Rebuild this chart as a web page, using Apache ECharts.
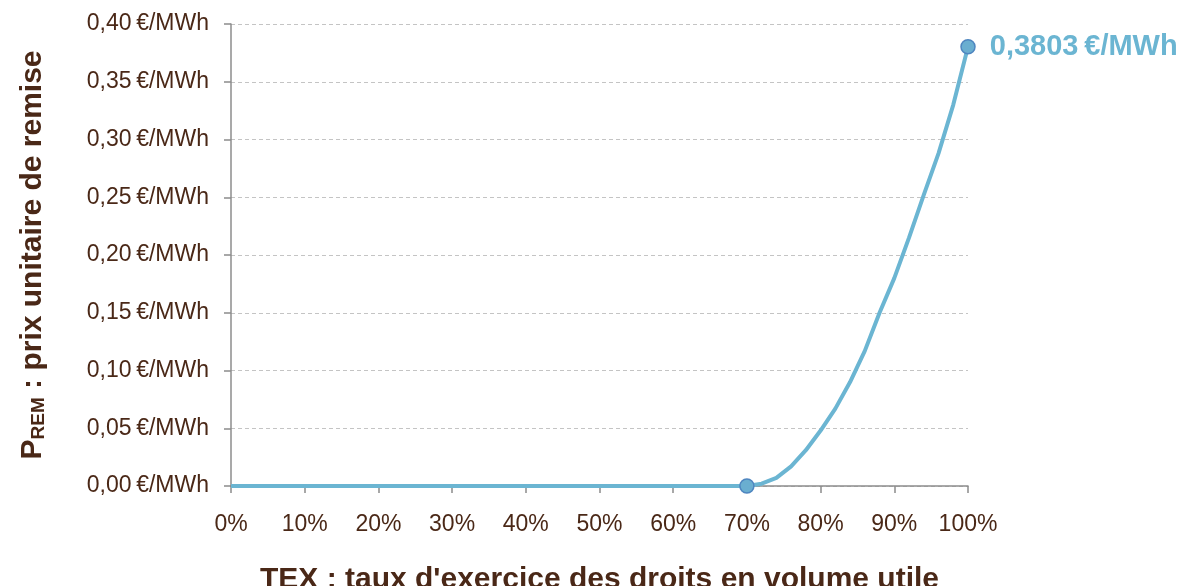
<!DOCTYPE html>
<html>
<head>
<meta charset="utf-8">
<script src="https://cdn.jsdelivr.net/npm/echarts@6/dist/echarts.min.js"></script>
<style>
  html, body { margin: 0; padding: 0; background: #fff; }
  #chart { width: 1179px; height: 586px; }
</style>
</head>
<body>
<div id="chart"></div>
<script>
  // taux d'exercice (%) et prix unitaire de remise (€/MWh)
  var tex = [0, 70, 72, 74, 76, 78, 80, 82, 84, 86, 88, 90, 92, 94, 96, 98, 100]
  var prix = [0, 0, 0.002, 0.007, 0.017, 0.031, 0.048, 0.067, 0.090, 0.117, 0.150, 0.180, 0.215, 0.252, 0.288, 0.330, 0.3803]
  var markedTex = [70, 100]

  var brown = '#4a2817'
  var blue = '#6bb5d2'
  var font = 'Liberation Sans'

  var data = tex.map(function (t, i) { return [t, prix[i]] })

  var chart = echarts.init(document.getElementById('chart'))

  var option = {
    animation: false,
    grid: { left: 231, right: 211, top: 24, bottom: 100, outerBoundsMode: 'none' },
    xAxis: {
      type: 'value',
      min: 0,
      max: 100,
      interval: 10,
      name: "TEX : taux d'exercice des droits en volume utile",
      nameLocation: 'middle',
      nameGap: 79,
      nameTextStyle: { color: brown, fontFamily: font, fontSize: 30, fontWeight: 'bold' },
      axisLine: { show: true, lineStyle: { color: '#8c8c8c', width: 1.5 } },
      axisTick: { show: true, length: 7, lineStyle: { color: '#8c8c8c', width: 1.5 } },
      axisLabel: {
        color: brown, fontFamily: font, fontSize: 23, margin: 27,
        formatter: function (v) { return v + '%' }
      },
      splitLine: { show: false }
    },
    yAxis: {
      type: 'value',
      min: 0,
      max: 0.4,
      interval: 0.05,
      name: '{p|P}{s|REM}{p| : prix unitaire de remise}',
      nameLocation: 'middle',
      nameGap: 183,
      nameRotate: 90,
      nameTextStyle: {
        rich: {
          p: { color: brown, fontFamily: font, fontSize: 30, fontWeight: 'bold' },
          s: { color: brown, fontFamily: font, fontSize: 19, fontWeight: 'bold', verticalAlign: 'bottom', padding: [11, 0, 0, 0] }
        }
      },
      axisLine: { show: true, lineStyle: { color: '#8c8c8c', width: 1.5 } },
      axisTick: { show: true, inside: false, length: 7, lineStyle: { color: '#8c8c8c', width: 1.5 } },
      axisLabel: {
        color: brown, fontFamily: font, fontSize: 23, margin: 22,
        formatter: function (v) { return v.toFixed(2).replace('.', ',') + '\u2009€/MWh' }
      },
      splitLine: { show: true, lineStyle: { color: '#c4c4c4', type: [4, 3], width: 1.2 } }
    },
    series: [{
      type: 'line',
      data: data,
      smooth: false,
      showSymbol: true,
      symbol: 'circle',
      symbolSize: function (v) { return markedTex.indexOf(v[0]) >= 0 ? 14 : 0 },
      itemStyle: { color: '#6aaed0', borderColor: '#4f86c0', borderWidth: 1.5 },
      lineStyle: { color: blue, width: 4 },
      label: {
        show: true,
        position: 'right',
        distance: 14,
        color: blue,
        fontFamily: font,
        fontSize: 29,
        fontWeight: 'bold',
        formatter: function (p) {
          if (p.value[0] !== 100) return ''
          return p.value[1].toFixed(4).replace('.', ',') + '\u2009€/MWh'
        }
      },
      z: 5
    }]
  }

  chart.setOption(option)
</script>
</body>
</html>
